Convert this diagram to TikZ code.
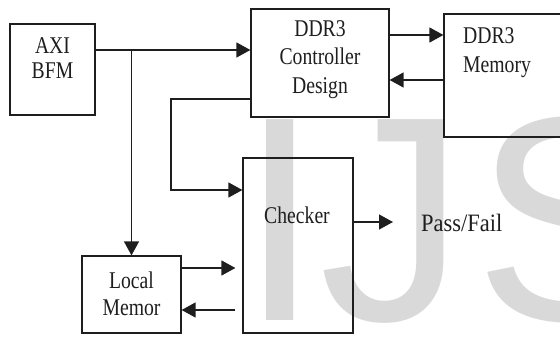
\documentclass[tikz,border=0pt]{standalone}
\usepackage{fontspec}
\setmainfont{Liberation Serif}
\newfontfamily\labfont{Liberation Serif}[FakeStretch=0.82]
\newfontfamily\passfont{Liberation Serif}[FakeStretch=0.9]
\newfontfamily\wmfont{Liberation Sans}
\usetikzlibrary{arrows.meta}
\definecolor{ink}{HTML}{1E1E1E}
\definecolor{wmgray}{HTML}{D9D9D9}
\tikzset{
  box/.style={draw=ink, line width=1.2pt, rectangle, inner sep=0pt},
  lbl/.style={anchor=base, inner sep=0pt, text=ink, font=\labfont\fontsize{24}{28}\selectfont},
  link/.style={draw=ink, line width=1.3pt, -{Triangle[length=14pt,width=15pt]}},
  wmletter/.style={anchor=base west, inner sep=0pt, text=wmgray, font=\wmfont\fontsize{292}{292}\selectfont}
}
\begin{document}
\begin{tikzpicture}[x=1pt,y=-1pt]
\useasboundingbox (0,0) rectangle (560,337);
\clip (0,0) rectangle (560,337);

% background lettering
\node[wmletter] (wmI) at (239.5,320) {I};
\node[wmletter] (wmJ) at (319,320) {J};
\node[wmletter] (wmS) at (474,320) {S};

% blocks
\node[box, minimum width=85pt, minimum height=91pt] (axi) at (52.5,69.5) {};
\node[box, minimum width=138pt, minimum height=108pt] (ctrl) at (320,63) {};
\node[box, minimum width=156pt, minimum height=123pt] (dmem) at (522,75.5) {};
\node[box, minimum width=110pt, minimum height=175pt] (checker) at (298,245.5) {};
\node[box, minimum width=99pt, minimum height=77pt] (lmem) at (131.5,294.5) {};

% block labels
\node[lbl] (axiA) at (52.5,54) {AXI};
\node[lbl] (axiB) at (52.5,79) {BFM};
\node[lbl] (ctrlA) at (320,37) {DDR3};
\node[lbl] (ctrlB) at (320,65) {Controller};
\node[lbl] (ctrlC) at (320,94) {Design};
\node[lbl, anchor=base west] (dmemA) at (463,44) {DDR3};
\node[lbl, anchor=base west] (dmemB) at (463,73) {Memory};
\node[lbl] (checkerA) at (297,223) {Checker};
\node[lbl] (lmemA) at (131.5,288) {Local};
\node[lbl] (lmemB) at (131.5,315) {Memor};
\node[anchor=base west, inner sep=0pt, text=ink, font=\passfont\fontsize{25}{28}\selectfont] (pass) at (421,231) {Pass/Fail};

% connectors
\draw[link] (axi.east |- 0,50) -- (ctrl.west |- 0,50);
\draw[link] (lmem.north |- 0,50) -- (lmem.north);
\draw[link] (ctrl.west |- 0,99) -| (171,190) -- (checker.west |- 0,190);
\draw[link] (ctrl.east |- 0,35) -- (dmem.west |- 0,35);
\draw[link] (dmem.west |- 0,80) -- (ctrl.east |- 0,80);
\draw[link, shorten >=7pt] (lmem.east |- 0,268) -- (checker.west |- 0,268);
\draw[link, shorten <=7pt] (checker.west |- 0,310) -- (lmem.east |- 0,310);
\draw[link, shorten >=28pt] (checker.east |- 0,222) -- (pass.west |- 0,222);
\end{tikzpicture}
\end{document}
